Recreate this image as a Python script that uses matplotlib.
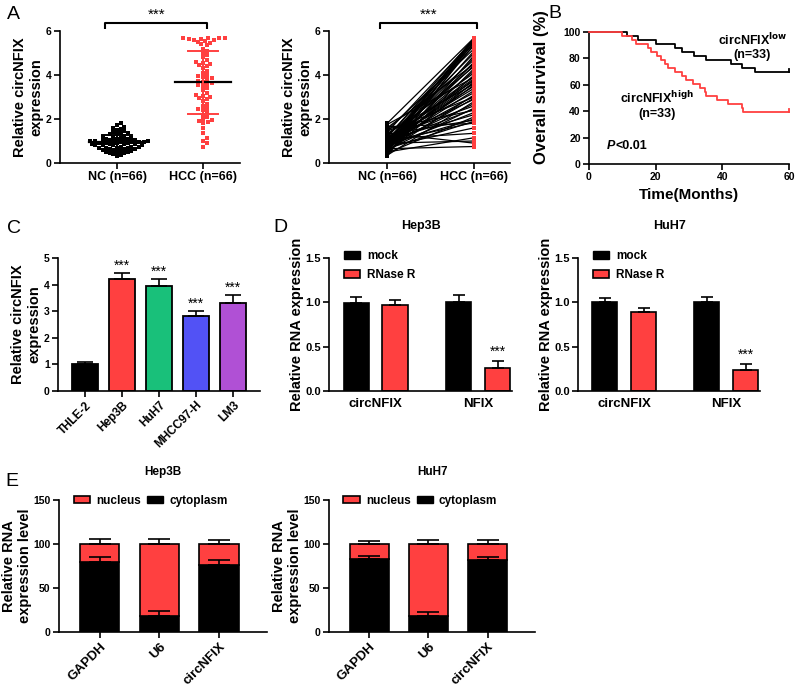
import numpy as np
import matplotlib
matplotlib.use('Agg')
import matplotlib.pyplot as plt
from matplotlib.patches import Patch

plt.rcParams['font.family'] = ['Liberation Sans', 'DejaVu Sans']
plt.rcParams['font.weight'] = 'bold'
plt.rcParams['axes.linewidth'] = 1.2

RED = '#ff4040'

# ---------------- data ----------------
group_labels = ['NC (n=66)', 'HCC (n=66)']
nc_values = [1.8, 1.75, 1.65, 1.6, 1.55, 1.5, 1.45, 1.4, 1.35, 1.35, 1.3, 1.3, 1.25,
             1.2, 1.2, 1.15, 1.15, 1.1, 1.1, 1.1, 1.05, 1.05, 1.05, 1.0, 1.0, 1.0,
             1.0, 0.95, 0.95, 0.95, 0.95, 0.9, 0.9, 0.9, 0.9, 0.85, 0.85, 0.85, 0.85,
             0.8, 0.8, 0.8, 0.8, 0.75, 0.75, 0.75, 0.7, 0.7, 0.7, 0.7, 0.65, 0.65,
             0.65, 0.6, 0.6, 0.55, 0.55, 0.5, 0.5, 0.5, 0.45, 0.45, 0.4, 0.35, 0.3, 1.0]
hcc_values = [5.7, 5.7, 5.68, 5.66, 5.65, 5.62, 5.6, 5.6, 5.55, 5.5, 5.45, 5.4, 5.35,
              5.2, 5.1, 5.0, 4.9, 4.8, 4.7, 4.6, 4.55, 4.5, 4.45, 4.4, 4.3, 4.2, 4.1,
              4.0, 3.95, 3.9, 3.8, 3.75, 3.7, 3.65, 3.6, 3.55, 3.5, 3.4, 3.3, 3.2, 3.1,
              3.05, 3.0, 2.95, 2.9, 2.8, 2.7, 2.6, 2.5, 2.45, 2.4, 2.3, 2.2, 2.1, 2.0,
              1.95, 1.9, 1.85, 1.8, 1.6, 1.35, 1.15, 1.0, 0.9, 0.75, 3.85]

km_low_death_months = [11.3, 14.8, 20.0, 25.8, 28.0, 31.5, 35.0, 42.5, 45.8, 49.8]
km_high_death_months = [10.0, 13.0, 14.2, 17.8, 18.5, 20.3, 21.5, 22.8, 23.8, 25.8,
                        27.8, 29.0, 31.3, 33.3, 34.8, 35.2, 38.3, 41.8, 45.8, 46.2]
km_n_per_group = 33
km_followup_end = 60

cell_lines = ['THLE-2', 'Hep3B', 'HuH7', 'MHCC97-H', 'LM3']
cell_means = [1.0, 4.21, 3.95, 2.83, 3.3]
cell_errs = [0.1, 0.22, 0.26, 0.18, 0.31]
cell_colors = ['black', RED, '#19c07a', '#5252f5', '#b050d5']

rnase_genes = ['circNFIX', 'NFIX']
hep3b_mock = [0.99, 1.0]
hep3b_mock_err = [0.07, 0.08]
hep3b_rnase = [0.97, 0.26]
hep3b_rnase_err = [0.06, 0.08]
huh7_mock = [1.0, 1.0]
huh7_mock_err = [0.045, 0.06]
huh7_rnase = [0.89, 0.24]
huh7_rnase_err = [0.05, 0.07]

frac_genes = ['GAPDH', 'U6', 'circNFIX']
frac_total = [100, 100, 100]
hep3b_cyto = [79.5, 18.2, 76.5]
hep3b_cyto_err = [5.5, 5.3, 5.5]
hep3b_total_err = [5.3, 5.3, 4.9]
huh7_cyto = [83.3, 18.2, 81.5]
huh7_cyto_err = [3.0, 4.5, 3.7]
huh7_total_err = [3.4, 4.0, 4.9]

# ---------------- layout helpers ----------------
W, H = 800, 687
fig = plt.figure(figsize=(W / 100, H / 100), dpi=100)


def add_ax(x0, x1, ytop, ybot):
    return fig.add_axes([x0 / W, 1 - ybot / H, (x1 - x0) / W, (ybot - ytop) / H])


def style(ax, tick_size=7.5):
    ax.spines['top'].set_visible(False)
    ax.spines['right'].set_visible(False)
    ax.tick_params(direction='out', length=4, width=1.2, labelsize=tick_size, pad=2)
    for lab in ax.get_yticklabels() + ax.get_xticklabels():
        lab.set_fontweight('bold')


def up_err(ax, x, top, err, capsize, lw=1.2, color='black'):
    ax.errorbar(x, top, yerr=[np.zeros(len(err)), err], fmt='none', ecolor=color,
                elinewidth=lw, capsize=capsize, capthick=lw, zorder=5)


def swarm(values, ypx, step_px, diam_px):
    vals = np.asarray(values, float)
    order = np.argsort(vals)
    placed = []
    offs = np.zeros(len(vals))
    for i in order:
        y = vals[i] * ypx
        k = 0
        done = False
        while not done:
            cands = [0.0] if k == 0 else [k * step_px, -k * step_px]
            for c in cands:
                if all((c - px) ** 2 + (y - py) ** 2 >= diam_px ** 2 for px, py in placed):
                    offs[i] = c
                    placed.append((c, y))
                    done = True
                    break
            k += 1
    return offs


def bracket(ax, x0, x1, y, h):
    ax.plot([x0, x0, x1, x1], [y - h, y, y, y - h], color='black', lw=1.5,
            clip_on=False, solid_capstyle='butt')
    ax.text((x0 + x1) / 2, y + h * 0.15, '***', ha='center', va='bottom',
            fontsize=11, fontweight='normal')


# ---------------- Panel A (scatter) ----------------
ax = add_ax(60, 240, 31, 163)
ypx = 132 / 6.0
xpx = 86.0
for gi, (vals, col, dpx) in enumerate([(nc_values, 'black', 3.4), (hcc_values, RED, 4.2)]):
    offs = swarm(vals, ypx, 1.8, dpx) / xpx
    ax.scatter(gi + offs, vals, s=8, marker='s', color=col, linewidths=0, zorder=3)
    m = np.mean(vals)
    sd = np.std(vals, ddof=1)
    ax.plot([gi - 0.33, gi + 0.33], [m, m], color='black', lw=1.6, zorder=4)
    ax.plot([gi, gi], [m - sd, m + sd], color=col, lw=1.4, zorder=4)
    for v in (m - sd, m + sd):
        ax.plot([gi - 0.17, gi + 0.17], [v, v], color=col, lw=1.4, zorder=4)
ax.set_xlim(-0.663, 1.43)
ax.set_ylim(0, 6)
ax.set_yticks([0, 2, 4, 6])
ax.set_xticks([0, 1])
ax.set_xticklabels(group_labels)
ax.set_ylabel('Relative circNFIX\nexpression', fontsize=10.5, fontweight='bold', labelpad=2)
style(ax)
for lab in ax.get_xticklabels():
    lab.set_fontsize(9)
bracket(ax, -0.14, 1.05, 6.36, 0.27)

# ---------------- Panel A (paired lines) ----------------
ax = add_ax(329, 510, 31, 163)
n = len(nc_values)
pair_idx = [(i * 29) % n for i in range(n)]
for i in range(n):
    ax.plot([0, 1], [nc_values[i], hcc_values[pair_idx[i]]], color='black', lw=0.9, zorder=2)
ax.scatter(np.ones(n), hcc_values, s=5, marker='s', color=RED, linewidths=0, zorder=3)
ax.scatter(np.zeros(n), nc_values, s=5, marker='s', color='black', linewidths=0, zorder=3)
ax.set_xlim(-0.667, 1.41)
ax.set_ylim(0, 6)
ax.set_yticks([0, 2, 4, 6])
ax.set_xticks([0, 1])
ax.set_xticklabels(group_labels)
ax.set_ylabel('Relative circNFIX\nexpression', fontsize=10.5, fontweight='bold', labelpad=2)
style(ax)
for lab in ax.get_xticklabels():
    lab.set_fontsize(9)
bracket(ax, -0.08, 1.03, 6.36, 0.27)

# ---------------- Panel B (Kaplan-Meier) ----------------
ax = add_ax(589, 789, 32, 164)


def km_curve(deaths, n_total, t_end):
    t = [0.0]
    s = [100.0]
    at_risk = n_total
    surv = 1.0
    for d in sorted(deaths):
        surv *= (at_risk - 1) / at_risk
        at_risk -= 1
        t.append(d)
        s.append(surv * 100)
    t.append(t_end)
    s.append(surv * 100)
    return np.array(t), np.array(s)


for deaths, col in [(km_low_death_months, 'black'), (km_high_death_months, RED)]:
    t, s = km_curve(deaths, km_n_per_group, km_followup_end)
    ax.step(t, s, where='post', color=col, lw=1.3, clip_on=False, zorder=3)
    ax.plot([t[-1], t[-1]], [s[-1], s[-1] + 2.2], color=col, lw=1.3, clip_on=False)
ax.set_xlim(0, 60)
ax.set_ylim(0, 100)
ax.set_xticks([0, 20, 40, 60])
ax.set_yticks([0, 20, 40, 60, 80, 100])
ax.set_xlabel('Time(Months)', fontsize=11, fontweight='bold', labelpad=4)
ax.set_ylabel('Overall survival (%)', fontsize=12, fontweight='bold', labelpad=3)
ax.yaxis.set_label_coords(-0.2, 0.58)
style(ax)
ax.text(49.0, 90.5, r'circNFIX$^{\mathbf{low}}$', fontsize=9, ha='center', va='baseline')
ax.text(49.0, 80.0, '(n=33)', fontsize=9, ha='center', va='baseline')
ax.text(20.5, 46.5, r'circNFIX$^{\mathbf{high}}$', fontsize=9, ha='center', va='baseline')
ax.text(20.5, 35.5, '(n=33)', fontsize=9, ha='center', va='baseline')
ptxt = ax.text(5.4, 14, 'P', fontsize=9, ha='left', va='center', style='italic')
ax.annotate('<0.01', xy=(1, 0.5), xycoords=ptxt, va='center', ha='left', fontsize=9)

# ---------------- Panel C ----------------
ax = add_ax(58, 260, 258, 391)
xc = np.arange(len(cell_lines))
ax.bar(xc, cell_means, width=0.68, color=cell_colors, edgecolor='black', linewidth=1.3, zorder=2)
up_err(ax, xc, cell_means, cell_errs, capsize=6)
for i in range(1, len(cell_lines)):
    ax.text(xc[i], cell_means[i] + cell_errs[i] + 0.02, '***', ha='center', va='bottom',
            fontsize=10, fontweight='normal')
ax.set_xlim(-0.73, 4.73)
ax.set_ylim(0, 5)
ax.set_yticks([0, 1, 2, 3, 4, 5])
ax.set_xticks(xc)
ax.set_xticklabels(cell_lines, rotation=45, ha='right', rotation_mode='anchor')
ax.set_ylabel('Relative circNFIX\nexpression', fontsize=10.5, fontweight='bold', labelpad=2)
style(ax)
for lab in ax.get_xticklabels():
    lab.set_fontsize(8.5)

# ---------------- Panel D ----------------
for (x0, x1, title, mock, mock_e, rn, rn_e) in [
        (329, 512, 'Hep3B', hep3b_mock, hep3b_mock_err, hep3b_rnase, hep3b_rnase_err),
        (578, 760, 'HuH7', huh7_mock, huh7_mock_err, huh7_rnase, huh7_rnase_err)]:
    ax = add_ax(x0, x1, 258, 391)
    xg = np.arange(len(rnase_genes))
    ax.bar(xg - 0.19, mock, width=0.245, color='black', edgecolor='black', linewidth=1.2, zorder=2)
    ax.bar(xg + 0.19, rn, width=0.245, color=RED, edgecolor='black', linewidth=1.2, zorder=2)
    up_err(ax, xg - 0.19, mock, mock_e, capsize=4.5)
    up_err(ax, xg + 0.19, rn, rn_e, capsize=4.5)
    ax.text(1 + 0.19, rn[1] + rn_e[1] + 0.02, '***', ha='center', va='bottom',
            fontsize=10, fontweight='normal')
    ax.set_xlim(-0.454, 1.33)
    ax.set_ylim(0, 1.5)
    ax.set_yticks([0, 0.5, 1.0, 1.5])
    ax.set_yticklabels(['0.0', '0.5', '1.0', '1.5'])
    ax.set_xticks(xg)
    ax.set_xticklabels(rnase_genes)
    ax.set_ylabel('Relative RNA expression', fontsize=10.5, fontweight='bold', labelpad=1)
    style(ax, tick_size=8)
    ax.tick_params(axis='x', length=0, labelsize=9.5, pad=5)
    ax.set_title(title, fontsize=9, fontweight='bold', pad=21)
    handles = [Patch(facecolor='black', edgecolor='black', label='mock'),
               Patch(facecolor=RED, edgecolor='black', lw=1.2, label='RNase R')]
    leg = ax.legend(handles=handles, loc='upper left', bbox_to_anchor=(0.08, 1.06),
                    frameon=False, fontsize=8.5, handlelength=1.4, handleheight=0.6,
                    labelspacing=0.6, handletextpad=0.6, borderpad=0, borderaxespad=0)
    for t in leg.get_texts():
        t.set_fontweight('bold')

# ---------------- Panel E ----------------
for (x0, x1, title, cyto, cyto_e, tot_e) in [
        (59, 267, 'Hep3B', hep3b_cyto, hep3b_cyto_err, hep3b_total_err),
        (329, 535, 'HuH7', huh7_cyto, huh7_cyto_err, huh7_total_err)]:
    ax = add_ax(x0, x1, 500, 632)
    xe = np.arange(len(frac_genes))
    nucleus = [tt - c for tt, c in zip(frac_total, cyto)]
    ax.bar(xe, cyto, width=0.66, color='black', edgecolor='black', linewidth=1.2, zorder=2)
    ax.bar(xe, nucleus, bottom=cyto, width=0.66, color=RED, edgecolor='black', linewidth=1.2, zorder=2)
    up_err(ax, xe, cyto, cyto_e, capsize=8)
    up_err(ax, xe, frac_total, tot_e, capsize=8)
    ax.set_xlim(-0.68, 2.8)
    ax.set_ylim(0, 150)
    ax.set_yticks([0, 50, 100, 150])
    ax.set_xticks(xe)
    ax.set_xticklabels(frac_genes, rotation=45, ha='right', rotation_mode='anchor')
    ax.set_ylabel('Relative RNA\nexpression level', fontsize=10.5, fontweight='bold', labelpad=1)
    style(ax)
    for lab in ax.get_xticklabels():
        lab.set_fontsize(9.5)
    ax.set_title(title, fontsize=8.5, fontweight='bold', pad=18)
    handles = [Patch(facecolor=RED, edgecolor='black', lw=1.2, label='nucleus'),
               Patch(facecolor='black', edgecolor='black', label='cytoplasm')]
    leg = ax.legend(handles=handles, loc='upper left', bbox_to_anchor=(0.07, 1.04), ncol=2,
                    frameon=False, fontsize=8.5, handlelength=1.4, handleheight=0.6,
                    columnspacing=0.5, handletextpad=0.5, borderpad=0, borderaxespad=0)
    for t in leg.get_texts():
        t.set_fontweight('bold')

# ---------------- panel letters ----------------
for letter, x, y in [('A', 7, 19), ('B', 548, 18), ('C', 7, 233), ('D', 273, 232), ('E', 5, 486)]:
    fig.text(x / W, 1 - y / H, letter, fontsize=14, fontweight='normal', ha='left', va='baseline')

fig.savefig('out.png', dpi=100)
